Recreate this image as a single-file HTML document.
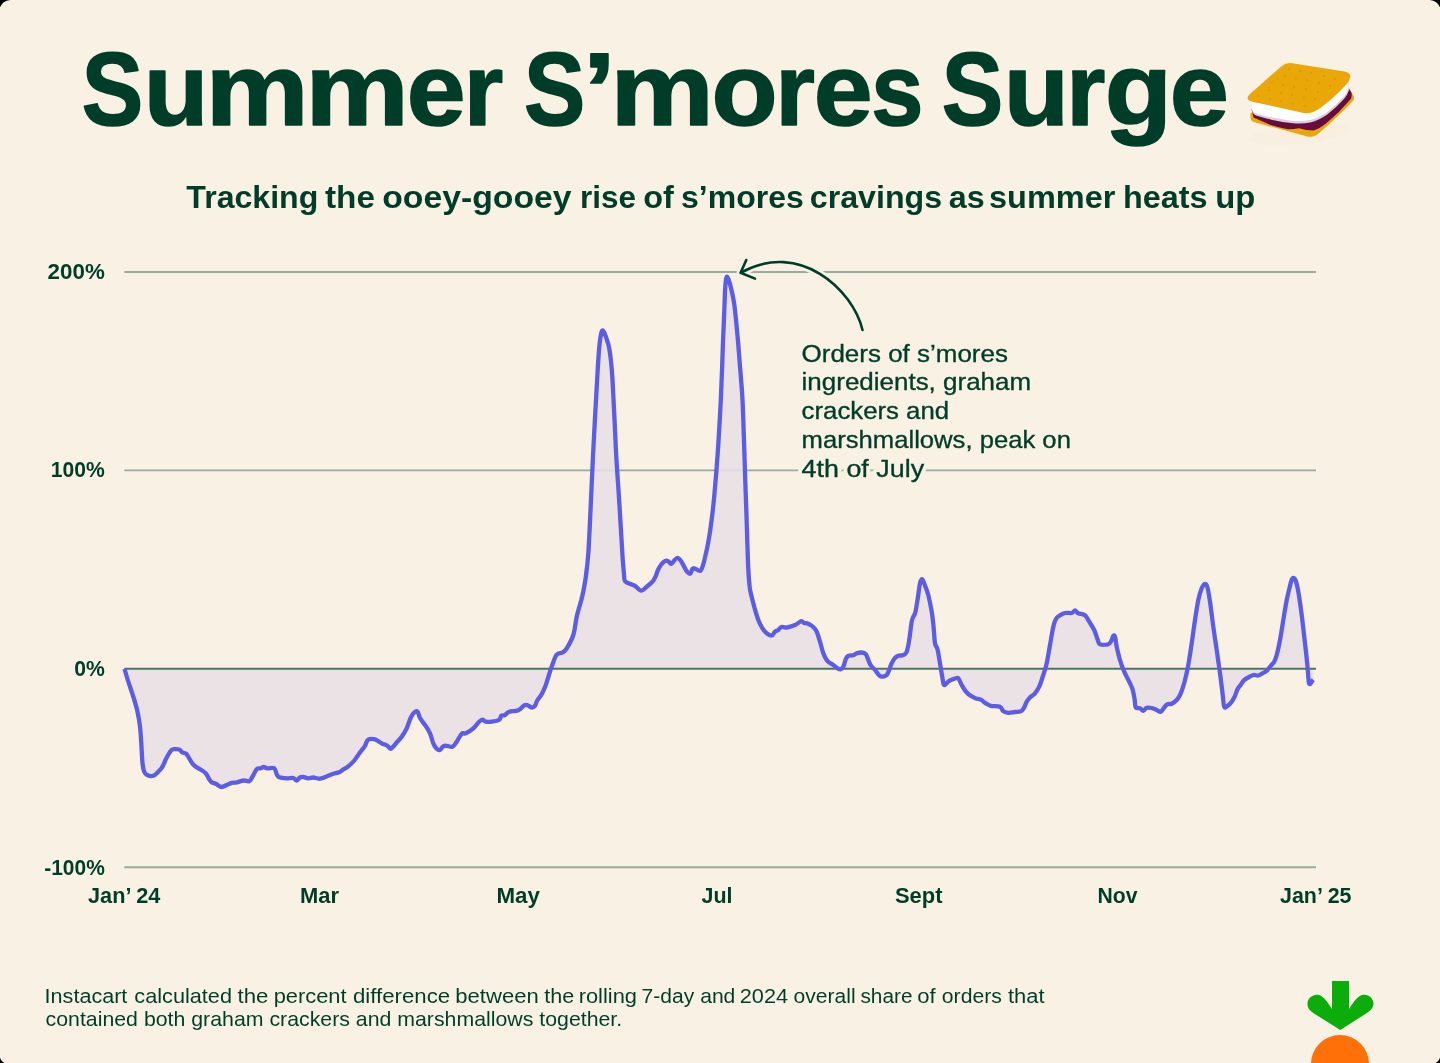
<!DOCTYPE html>
<html lang="en"><head><meta charset="utf-8"><title>Summer S'mores Surge</title>
<style>
html,body{margin:0;padding:0;background:#faf1e5;}
body{width:1440px;height:1063px;overflow:hidden;font-family:"Liberation Sans",sans-serif;}
svg{will-change:transform;display:block;position:absolute;left:0;top:0;}
text{font-family:"Liberation Sans",sans-serif;fill:#003d29;}
.serif{font-family:"Liberation Serif",serif;font-weight:bold;}
.b{font-weight:bold;}
</style></head><body>
<svg width="1440" height="1063" viewBox="0 0 1440 1063">
<rect x="0" y="0" width="1440" height="1063" fill="#faf1e5"/>
<g fill="#000">
<path d="M0,0H10.2Q2.5,1 0,7.2Z"/>
<path d="M1440,0H1429.8Q1437.5,1 1440,7.2Z"/>
<path d="M0,1063V1057.6Q1,1061.6 4.6,1063Z"/>
<path d="M1440,1063V1057.6Q1439,1061.6 1435.4,1063Z"/>
</g>
<line x1="124.3" y1="272.0" x2="1316.0" y2="272.0" stroke="#98ad9f" stroke-width="1.9"/>
<line x1="124.3" y1="470.4" x2="1316.0" y2="470.4" stroke="#98ad9f" stroke-width="1.9"/>
<line x1="124.3" y1="867.3" x2="1316.0" y2="867.3" stroke="#98ad9f" stroke-width="1.9"/>
<path d="M124.5,668.8C125.1,670.9 126.8,677.1 128.3,681.7C129.8,686.4 131.8,691.7 133.3,696.7C134.8,701.7 136.4,706.7 137.5,711.7C138.6,716.7 139.4,721.4 140.0,726.7C140.6,732.0 140.9,737.2 141.3,743.3C141.7,749.4 142.0,758.6 142.5,763.3C143.0,768.0 143.4,769.7 144.2,771.7C145.0,773.7 146.0,774.6 147.5,775.3C149.0,776.0 151.5,776.4 153.3,775.8C155.1,775.2 156.8,773.2 158.3,771.7C159.8,770.2 161.1,769.1 162.5,766.7C163.9,764.3 165.3,760.1 166.7,757.5C168.1,754.9 169.6,752.2 170.8,750.8C172.1,749.4 172.8,749.4 174.2,749.2C175.6,749.0 177.8,749.0 179.2,749.5C180.6,750.0 181.3,751.8 182.5,752.5C183.7,753.2 185.2,752.8 186.3,753.8C187.4,754.8 188.2,756.6 189.2,758.3C190.2,759.9 191.4,762.3 192.5,763.7C193.6,765.1 194.4,765.7 195.8,766.7C197.2,767.7 199.1,768.6 200.8,769.7C202.5,770.8 204.4,771.7 205.8,773.3C207.2,774.9 208.2,777.7 209.2,779.2C210.2,780.7 210.9,781.7 212.0,782.5C213.1,783.3 214.2,783.0 215.8,783.8C217.4,784.5 219.5,786.8 221.3,787.0C223.1,787.2 225.0,785.7 226.7,785.0C228.4,784.3 230.0,783.2 231.7,782.8C233.4,782.4 234.8,782.9 236.7,782.5C238.6,782.1 241.2,780.7 243.3,780.5C245.4,780.3 247.7,781.8 249.2,781.2C250.7,780.6 251.2,778.7 252.5,776.7C253.8,774.7 255.3,770.6 256.7,769.2C258.1,767.8 259.6,768.7 260.8,768.3C262.0,767.9 262.6,767.0 263.7,767.0C264.8,767.0 265.8,768.1 267.5,768.3C269.2,768.5 272.7,767.3 274.2,768.3C275.7,769.3 275.9,772.7 276.7,774.2C277.5,775.7 277.5,776.5 279.2,777.2C280.9,777.9 284.3,778.2 286.7,778.3C289.1,778.4 291.6,777.6 293.3,778.0C295.0,778.4 295.6,780.6 296.7,780.5C297.8,780.4 298.9,778.1 300.0,777.5C301.1,776.9 301.9,776.9 303.3,777.0C304.7,777.1 306.6,778.2 308.3,778.3C310.0,778.4 311.4,777.4 313.3,777.5C315.2,777.6 317.5,779.0 320.0,778.7C322.5,778.4 326.1,776.6 328.3,775.8C330.5,775.0 331.5,774.4 333.3,773.8C335.1,773.2 337.5,772.9 339.2,772.2C340.9,771.5 342.1,770.2 343.3,769.4C344.6,768.6 345.0,768.8 346.7,767.5C348.4,766.2 351.1,764.2 353.3,761.7C355.5,759.2 358.1,755.1 360.0,752.5C361.9,749.9 363.7,747.9 365.0,745.8C366.3,743.7 366.3,740.8 368.0,739.7C369.7,738.6 372.7,738.7 375.0,739.3C377.3,739.9 379.6,742.2 381.7,743.3C383.8,744.4 386.0,744.9 387.5,745.8C389.0,746.7 389.3,749.3 390.8,748.8C392.3,748.2 394.9,744.5 396.7,742.5C398.5,740.5 400.0,739.1 401.7,736.7C403.4,734.3 405.2,731.5 406.7,728.3C408.2,725.1 409.6,720.1 410.8,717.5C412.1,714.9 413.1,713.5 414.2,712.5C415.3,711.5 416.5,710.8 417.5,711.7C418.5,712.6 418.8,715.8 420.0,718.0C421.2,720.2 423.3,722.5 425.0,725.0C426.7,727.5 428.6,730.2 430.0,733.3C431.4,736.3 432.2,740.7 433.3,743.3C434.4,745.9 435.6,747.7 436.7,748.8C437.8,749.9 438.9,750.4 440.0,750.0C441.1,749.6 442.2,747.0 443.3,746.3C444.4,745.6 445.2,745.7 446.7,745.8C448.2,745.9 450.8,747.4 452.5,746.7C454.2,746.0 455.2,743.9 456.7,741.7C458.2,739.5 460.2,735.1 461.7,733.7C463.2,732.3 463.9,734.2 465.8,733.3C467.7,732.4 471.1,730.2 473.3,728.3C475.5,726.4 477.7,723.1 479.2,721.7C480.7,720.3 481.4,719.7 482.5,719.7C483.6,719.7 484.3,721.4 485.8,721.7C487.3,722.0 489.5,722.0 491.7,721.7C493.9,721.4 497.6,720.7 499.2,719.7C500.8,718.7 500.3,716.6 501.3,715.8C502.3,715.0 503.7,715.7 505.0,715.0C506.3,714.3 507.0,712.5 509.2,711.7C511.4,710.9 515.8,711.4 518.3,710.3C520.8,709.2 522.7,706.1 524.2,705.3C525.7,704.5 526.2,704.9 527.5,705.3C528.8,705.7 530.5,707.4 531.7,707.5C532.9,707.6 533.7,707.5 534.7,706.2C535.7,705.0 536.3,702.0 537.5,700.0C538.7,698.0 540.3,696.7 541.7,694.2C543.1,691.7 544.5,688.3 545.8,685.0C547.0,681.7 548.1,677.7 549.2,674.2C550.3,670.7 551.2,667.5 552.5,664.2C553.8,661.0 555.0,656.7 556.7,654.7C558.4,652.8 560.8,653.6 562.5,652.5C564.2,651.4 564.9,651.2 566.7,648.3C568.5,645.4 571.6,640.3 573.3,635.0C575.0,629.7 575.4,622.5 576.7,616.7C578.0,610.9 580.2,604.3 581.3,600.0C582.4,595.7 582.6,594.9 583.4,591.0C584.1,587.1 585.0,582.8 585.8,576.9C586.6,571.0 587.5,564.0 588.1,555.8C588.8,547.6 589.2,537.0 589.7,527.6C590.2,518.2 590.6,508.8 591.0,499.4C591.4,490.0 591.9,479.4 592.3,471.2C592.7,463.0 592.9,457.6 593.3,450.0C593.7,442.4 594.1,435.0 594.6,425.4C595.1,415.8 595.9,402.4 596.4,392.5C596.9,382.6 597.4,374.2 597.9,366.1C598.4,358.0 599.0,349.2 599.6,343.7C600.2,338.2 600.7,335.4 601.2,333.2C601.7,331.0 602.2,330.5 602.7,330.5C603.2,330.5 603.8,331.6 604.5,333.2C605.2,334.8 606.1,337.4 606.9,339.8C607.7,342.2 608.5,344.4 609.1,347.7C609.8,351.0 610.3,354.9 610.8,359.5C611.3,364.1 611.8,368.7 612.2,375.3C612.7,381.9 613.1,390.8 613.5,399.1C613.9,407.5 614.4,416.9 614.8,425.4C615.2,433.9 615.5,442.4 615.9,450.0C616.3,457.6 616.7,463.0 617.2,471.2C617.7,479.4 618.5,490.0 619.1,499.4C619.7,508.8 620.2,518.2 620.8,527.6C621.4,537.0 622.0,548.0 622.5,555.8C623.0,563.5 623.6,569.9 624.0,574.1C624.4,578.3 623.9,579.6 625.0,581.2C626.1,582.9 629.0,583.2 630.6,584.0C632.2,584.8 633.1,584.7 634.9,585.8C636.7,586.9 639.2,590.5 641.2,590.6C643.2,590.8 644.8,588.2 646.7,586.7C648.6,585.2 651.0,583.5 652.5,581.7C654.0,579.9 654.8,577.9 655.8,575.8C656.8,573.7 657.2,571.3 658.3,569.2C659.4,567.1 661.2,564.4 662.5,563.0C663.8,561.6 664.8,561.1 665.8,560.8C666.8,560.5 667.4,560.8 668.3,561.3C669.2,561.8 670.2,564.1 671.3,563.8C672.4,563.5 673.9,560.7 675.0,559.7C676.1,558.7 677.0,557.8 678.0,558.0C679.0,558.2 679.8,559.3 680.8,560.8C681.8,562.2 683.2,564.9 684.2,566.7C685.2,568.5 686.0,570.5 687.0,571.7C688.0,572.9 689.4,574.2 690.3,573.7C691.2,573.2 691.7,569.6 692.5,568.8C693.3,567.9 693.6,568.3 695.0,568.6C696.4,568.9 699.0,572.0 700.6,570.6C702.2,569.2 703.0,565.5 704.4,560.0C705.8,554.5 707.7,545.9 709.1,537.4C710.5,528.9 711.8,518.9 712.9,509.2C714.0,499.5 714.9,489.2 715.7,479.1C716.6,469.1 717.3,458.9 718.0,448.9C718.7,438.8 719.3,426.9 719.8,418.8C720.3,410.7 720.4,408.1 720.8,400.0C721.2,391.9 721.6,379.7 722.0,370.4C722.4,361.1 722.6,352.9 722.9,344.1C723.2,335.3 723.6,326.5 724.0,317.7C724.4,308.9 724.7,297.8 725.0,291.4C725.3,285.0 725.7,282.0 726.0,279.5C726.3,277.0 726.5,276.6 726.9,276.6C727.3,276.6 727.9,277.5 728.6,279.5C729.3,281.5 730.3,285.0 731.2,288.7C732.1,292.4 733.1,297.1 733.9,301.9C734.7,306.7 735.1,311.5 735.8,317.7C736.4,323.9 737.1,331.1 737.8,338.8C738.5,346.5 739.2,356.3 739.8,363.8C740.4,371.3 740.9,377.6 741.4,383.6C741.9,389.6 742.1,392.6 742.5,400.0C742.9,407.4 743.3,418.8 743.6,428.2C743.9,437.6 744.2,447.1 744.5,456.5C744.8,465.9 745.1,475.3 745.4,484.7C745.7,494.1 746.1,503.5 746.4,512.9C746.7,522.3 747.0,531.8 747.3,541.2C747.6,550.6 747.9,561.9 748.3,569.4C748.7,576.9 749.2,582.4 749.6,586.4C750.0,590.4 750.0,589.9 750.8,593.3C751.6,596.7 753.0,602.2 754.2,606.7C755.5,611.2 756.9,616.4 758.3,620.0C759.7,623.6 761.1,626.1 762.5,628.3C763.9,630.5 765.2,632.1 766.7,633.3C768.2,634.5 770.3,635.8 771.7,635.5C773.1,635.2 773.9,632.6 775.0,631.7C776.1,630.8 777.2,630.8 778.3,630.0C779.3,629.2 779.9,627.4 781.3,627.0C782.7,626.6 784.4,627.8 786.7,627.5C789.0,627.2 792.6,626.0 795.0,625.0C797.4,624.0 799.7,621.5 801.2,621.2C802.7,620.9 803.0,622.6 804.2,623.0C805.4,623.4 806.8,623.0 808.3,623.7C809.8,624.4 811.9,625.7 813.3,627.0C814.7,628.3 815.6,629.2 816.7,631.7C817.8,634.2 818.9,638.1 820.0,641.7C821.1,645.3 822.2,650.2 823.3,653.3C824.4,656.3 825.7,658.5 826.7,660.0C827.7,661.5 828.1,661.7 829.2,662.5C830.3,663.3 831.9,664.0 833.3,665.0C834.7,666.0 836.2,667.6 837.5,668.3C838.8,669.0 839.8,669.5 840.8,669.2C841.8,668.9 842.5,668.4 843.3,666.7C844.1,665.0 845.0,661.0 845.8,659.2C846.6,657.4 847.0,656.4 848.3,655.8C849.5,655.1 851.9,655.7 853.3,655.3C854.7,654.9 855.3,653.8 856.7,653.3C858.1,652.8 860.2,652.4 861.7,652.5C863.2,652.6 864.7,653.0 865.8,654.2C866.9,655.5 867.5,658.1 868.3,660.0C869.1,661.9 869.7,663.6 870.8,665.3C871.9,667.0 873.6,668.3 875.0,670.0C876.4,671.7 878.0,674.2 879.2,675.3C880.5,676.4 881.2,676.8 882.5,676.7C883.8,676.7 885.6,676.1 886.7,675.0C887.8,673.9 888.4,672.0 889.2,670.0C890.0,668.0 890.7,665.3 891.7,663.3C892.7,661.3 893.9,659.2 895.0,658.0C896.1,656.8 896.9,656.3 898.3,655.8C899.7,655.3 901.9,655.7 903.3,655.0C904.7,654.3 905.7,654.2 906.7,651.7C907.7,649.2 908.4,645.0 909.2,640.0C910.0,635.0 911.0,625.6 911.7,621.7C912.4,617.8 912.7,618.2 913.3,616.7C913.9,615.2 914.6,615.3 915.3,612.5C916.0,609.7 916.7,604.9 917.5,600.0C918.3,595.1 919.2,586.8 920.0,583.3C920.8,579.8 921.3,579.2 922.0,579.2C922.7,579.2 923.2,580.7 924.2,583.3C925.2,585.9 927.0,590.3 928.3,595.0C929.5,599.7 930.8,606.2 931.7,611.7C932.6,617.2 933.2,623.0 933.7,628.3C934.2,633.6 934.4,639.8 935.0,643.3C935.6,646.8 936.7,645.9 937.5,649.2C938.3,652.5 939.2,658.4 940.0,663.3C940.8,668.1 941.8,674.7 942.5,678.3C943.2,681.9 943.1,684.6 944.2,685.0C945.3,685.4 947.5,681.8 949.2,680.8C950.9,679.8 952.7,679.2 954.2,678.8C955.7,678.4 957.0,677.3 958.3,678.3C959.5,679.3 960.3,682.6 961.7,685.0C963.1,687.4 964.9,690.5 966.7,692.5C968.5,694.5 971.0,695.8 972.5,696.8C974.0,697.8 974.6,698.0 976.0,698.5C977.4,699.0 979.2,698.9 980.8,699.7C982.4,700.5 984.1,702.3 985.8,703.3C987.5,704.3 988.4,705.2 990.8,705.8C993.2,706.4 997.9,705.8 1000.0,706.7C1002.1,707.6 1001.9,710.3 1003.3,711.3C1004.7,712.3 1006.3,712.7 1008.3,712.8C1010.2,712.9 1012.9,712.2 1015.0,712.0C1017.1,711.8 1019.3,711.9 1020.8,711.3C1022.2,710.7 1022.7,709.9 1023.7,708.3C1024.7,706.7 1025.7,703.5 1026.7,701.7C1027.8,699.9 1028.6,698.9 1030.0,697.5C1031.4,696.1 1033.5,695.1 1035.0,693.3C1036.5,691.5 1037.8,689.8 1039.2,686.7C1040.6,683.7 1042.0,678.9 1043.3,675.0C1044.5,671.1 1045.6,668.3 1046.7,663.3C1047.8,658.3 1048.9,651.1 1050.0,645.0C1051.1,638.9 1052.3,631.0 1053.3,626.7C1054.3,622.4 1054.8,621.0 1055.8,619.2C1056.8,617.4 1057.7,616.8 1059.2,615.8C1060.7,614.8 1062.9,613.5 1065.0,613.0C1067.1,612.5 1070.0,613.4 1071.7,613.0C1073.4,612.6 1073.9,610.5 1075.0,610.5C1076.1,610.5 1076.6,612.5 1078.3,613.3C1080.0,614.1 1083.2,613.9 1085.0,615.3C1086.8,616.7 1087.7,619.2 1089.2,621.7C1090.7,624.2 1092.8,627.1 1094.2,630.0C1095.6,632.9 1096.5,636.8 1097.5,639.2C1098.5,641.6 1098.2,643.4 1100.0,644.2C1101.8,645.0 1106.4,644.8 1108.3,644.2C1110.2,643.6 1110.5,642.2 1111.3,640.8C1112.1,639.4 1112.7,636.5 1113.3,635.8C1113.9,635.1 1114.4,634.9 1115.0,636.7C1115.6,638.5 1115.9,642.8 1116.7,646.7C1117.5,650.6 1118.8,655.8 1120.0,660.0C1121.2,664.2 1122.7,668.1 1124.2,671.7C1125.7,675.3 1127.8,678.8 1129.2,681.7C1130.6,684.6 1131.6,686.2 1132.5,689.2C1133.4,692.2 1134.2,697.0 1134.7,700.0C1135.2,703.0 1134.9,706.1 1135.8,707.5C1136.7,708.9 1138.8,707.8 1140.0,708.3C1141.2,708.8 1142.2,710.9 1143.3,710.8C1144.4,710.7 1145.3,708.3 1146.7,707.8C1148.1,707.3 1150.0,707.6 1151.7,708.0C1153.4,708.4 1155.2,709.4 1156.7,710.0C1158.2,710.6 1159.5,712.1 1160.8,711.7C1162.0,711.3 1163.1,708.8 1164.2,707.5C1165.3,706.2 1166.2,704.8 1167.5,704.2C1168.8,703.6 1170.2,704.4 1171.7,703.7C1173.2,703.0 1175.2,701.7 1176.7,700.0C1178.2,698.3 1179.4,696.6 1180.8,693.3C1182.2,690.0 1183.8,684.7 1185.0,680.0C1186.2,675.3 1187.2,671.1 1188.3,665.0C1189.4,658.9 1190.6,650.8 1191.7,643.3C1192.8,635.8 1193.9,627.2 1195.0,620.0C1196.1,612.8 1197.2,605.3 1198.3,600.0C1199.4,594.7 1200.6,591.0 1201.7,588.3C1202.8,585.6 1204.1,583.9 1205.1,583.8C1206.1,583.7 1206.7,584.5 1207.5,587.5C1208.3,590.5 1209.0,595.2 1210.0,601.7C1211.0,608.2 1212.2,618.7 1213.3,626.7C1214.4,634.8 1215.6,642.2 1216.7,650.0C1217.8,657.8 1219.0,666.1 1220.0,673.3C1221.0,680.5 1221.8,687.7 1222.5,693.3C1223.2,698.9 1223.4,704.6 1224.2,706.7C1225.0,708.8 1226.2,706.6 1227.5,705.8C1228.8,705.0 1230.5,703.4 1231.7,701.7C1233.0,700.0 1234.0,697.9 1235.0,695.8C1236.0,693.7 1236.5,691.1 1237.5,689.2C1238.5,687.4 1239.7,686.2 1240.8,684.7C1241.9,683.2 1243.0,681.2 1244.2,680.0C1245.5,678.8 1246.8,678.3 1248.3,677.5C1249.8,676.7 1251.6,675.3 1253.3,675.0C1255.0,674.7 1256.8,675.8 1258.3,675.5C1259.8,675.2 1261.1,674.1 1262.5,673.3C1263.9,672.5 1265.3,672.0 1266.7,670.8C1268.1,669.5 1269.5,667.3 1270.8,665.8C1272.0,664.3 1273.2,663.5 1274.2,661.7C1275.2,659.9 1275.7,658.6 1276.7,655.0C1277.7,651.4 1278.9,645.8 1280.0,640.0C1281.1,634.2 1282.2,626.7 1283.3,620.0C1284.4,613.3 1285.6,605.7 1286.7,600.0C1287.8,594.3 1289.1,589.3 1290.0,585.8C1290.9,582.3 1291.4,580.5 1292.0,579.2C1292.6,577.9 1293.1,577.7 1293.7,578.0C1294.3,578.3 1295.0,578.5 1295.8,580.8C1296.6,583.1 1297.3,586.0 1298.3,591.7C1299.3,597.4 1300.6,606.4 1301.7,615.0C1302.8,623.6 1304.0,634.7 1305.0,643.3C1306.0,651.9 1306.9,660.3 1307.5,666.7C1308.1,673.1 1308.3,678.8 1308.7,681.7C1309.1,684.6 1309.5,684.2 1310.0,684.2C1310.5,684.2 1311.2,682.5 1311.7,681.7C1312.2,681.0 1313.0,680.0 1313.3,679.7L1313.3,668.8L124.5,668.8Z" fill="#e7dfe5" fill-opacity="0.85"/>
<line x1="124.3" y1="668.8" x2="1316.0" y2="668.8" stroke="#507463" stroke-width="2.1"/>
<path d="M124.5,668.8C125.1,670.9 126.8,677.1 128.3,681.7C129.8,686.4 131.8,691.7 133.3,696.7C134.8,701.7 136.4,706.7 137.5,711.7C138.6,716.7 139.4,721.4 140.0,726.7C140.6,732.0 140.9,737.2 141.3,743.3C141.7,749.4 142.0,758.6 142.5,763.3C143.0,768.0 143.4,769.7 144.2,771.7C145.0,773.7 146.0,774.6 147.5,775.3C149.0,776.0 151.5,776.4 153.3,775.8C155.1,775.2 156.8,773.2 158.3,771.7C159.8,770.2 161.1,769.1 162.5,766.7C163.9,764.3 165.3,760.1 166.7,757.5C168.1,754.9 169.6,752.2 170.8,750.8C172.1,749.4 172.8,749.4 174.2,749.2C175.6,749.0 177.8,749.0 179.2,749.5C180.6,750.0 181.3,751.8 182.5,752.5C183.7,753.2 185.2,752.8 186.3,753.8C187.4,754.8 188.2,756.6 189.2,758.3C190.2,759.9 191.4,762.3 192.5,763.7C193.6,765.1 194.4,765.7 195.8,766.7C197.2,767.7 199.1,768.6 200.8,769.7C202.5,770.8 204.4,771.7 205.8,773.3C207.2,774.9 208.2,777.7 209.2,779.2C210.2,780.7 210.9,781.7 212.0,782.5C213.1,783.3 214.2,783.0 215.8,783.8C217.4,784.5 219.5,786.8 221.3,787.0C223.1,787.2 225.0,785.7 226.7,785.0C228.4,784.3 230.0,783.2 231.7,782.8C233.4,782.4 234.8,782.9 236.7,782.5C238.6,782.1 241.2,780.7 243.3,780.5C245.4,780.3 247.7,781.8 249.2,781.2C250.7,780.6 251.2,778.7 252.5,776.7C253.8,774.7 255.3,770.6 256.7,769.2C258.1,767.8 259.6,768.7 260.8,768.3C262.0,767.9 262.6,767.0 263.7,767.0C264.8,767.0 265.8,768.1 267.5,768.3C269.2,768.5 272.7,767.3 274.2,768.3C275.7,769.3 275.9,772.7 276.7,774.2C277.5,775.7 277.5,776.5 279.2,777.2C280.9,777.9 284.3,778.2 286.7,778.3C289.1,778.4 291.6,777.6 293.3,778.0C295.0,778.4 295.6,780.6 296.7,780.5C297.8,780.4 298.9,778.1 300.0,777.5C301.1,776.9 301.9,776.9 303.3,777.0C304.7,777.1 306.6,778.2 308.3,778.3C310.0,778.4 311.4,777.4 313.3,777.5C315.2,777.6 317.5,779.0 320.0,778.7C322.5,778.4 326.1,776.6 328.3,775.8C330.5,775.0 331.5,774.4 333.3,773.8C335.1,773.2 337.5,772.9 339.2,772.2C340.9,771.5 342.1,770.2 343.3,769.4C344.6,768.6 345.0,768.8 346.7,767.5C348.4,766.2 351.1,764.2 353.3,761.7C355.5,759.2 358.1,755.1 360.0,752.5C361.9,749.9 363.7,747.9 365.0,745.8C366.3,743.7 366.3,740.8 368.0,739.7C369.7,738.6 372.7,738.7 375.0,739.3C377.3,739.9 379.6,742.2 381.7,743.3C383.8,744.4 386.0,744.9 387.5,745.8C389.0,746.7 389.3,749.3 390.8,748.8C392.3,748.2 394.9,744.5 396.7,742.5C398.5,740.5 400.0,739.1 401.7,736.7C403.4,734.3 405.2,731.5 406.7,728.3C408.2,725.1 409.6,720.1 410.8,717.5C412.1,714.9 413.1,713.5 414.2,712.5C415.3,711.5 416.5,710.8 417.5,711.7C418.5,712.6 418.8,715.8 420.0,718.0C421.2,720.2 423.3,722.5 425.0,725.0C426.7,727.5 428.6,730.2 430.0,733.3C431.4,736.3 432.2,740.7 433.3,743.3C434.4,745.9 435.6,747.7 436.7,748.8C437.8,749.9 438.9,750.4 440.0,750.0C441.1,749.6 442.2,747.0 443.3,746.3C444.4,745.6 445.2,745.7 446.7,745.8C448.2,745.9 450.8,747.4 452.5,746.7C454.2,746.0 455.2,743.9 456.7,741.7C458.2,739.5 460.2,735.1 461.7,733.7C463.2,732.3 463.9,734.2 465.8,733.3C467.7,732.4 471.1,730.2 473.3,728.3C475.5,726.4 477.7,723.1 479.2,721.7C480.7,720.3 481.4,719.7 482.5,719.7C483.6,719.7 484.3,721.4 485.8,721.7C487.3,722.0 489.5,722.0 491.7,721.7C493.9,721.4 497.6,720.7 499.2,719.7C500.8,718.7 500.3,716.6 501.3,715.8C502.3,715.0 503.7,715.7 505.0,715.0C506.3,714.3 507.0,712.5 509.2,711.7C511.4,710.9 515.8,711.4 518.3,710.3C520.8,709.2 522.7,706.1 524.2,705.3C525.7,704.5 526.2,704.9 527.5,705.3C528.8,705.7 530.5,707.4 531.7,707.5C532.9,707.6 533.7,707.5 534.7,706.2C535.7,705.0 536.3,702.0 537.5,700.0C538.7,698.0 540.3,696.7 541.7,694.2C543.1,691.7 544.5,688.3 545.8,685.0C547.0,681.7 548.1,677.7 549.2,674.2C550.3,670.7 551.2,667.5 552.5,664.2C553.8,661.0 555.0,656.7 556.7,654.7C558.4,652.8 560.8,653.6 562.5,652.5C564.2,651.4 564.9,651.2 566.7,648.3C568.5,645.4 571.6,640.3 573.3,635.0C575.0,629.7 575.4,622.5 576.7,616.7C578.0,610.9 580.2,604.3 581.3,600.0C582.4,595.7 582.6,594.9 583.4,591.0C584.1,587.1 585.0,582.8 585.8,576.9C586.6,571.0 587.5,564.0 588.1,555.8C588.8,547.6 589.2,537.0 589.7,527.6C590.2,518.2 590.6,508.8 591.0,499.4C591.4,490.0 591.9,479.4 592.3,471.2C592.7,463.0 592.9,457.6 593.3,450.0C593.7,442.4 594.1,435.0 594.6,425.4C595.1,415.8 595.9,402.4 596.4,392.5C596.9,382.6 597.4,374.2 597.9,366.1C598.4,358.0 599.0,349.2 599.6,343.7C600.2,338.2 600.7,335.4 601.2,333.2C601.7,331.0 602.2,330.5 602.7,330.5C603.2,330.5 603.8,331.6 604.5,333.2C605.2,334.8 606.1,337.4 606.9,339.8C607.7,342.2 608.5,344.4 609.1,347.7C609.8,351.0 610.3,354.9 610.8,359.5C611.3,364.1 611.8,368.7 612.2,375.3C612.7,381.9 613.1,390.8 613.5,399.1C613.9,407.5 614.4,416.9 614.8,425.4C615.2,433.9 615.5,442.4 615.9,450.0C616.3,457.6 616.7,463.0 617.2,471.2C617.7,479.4 618.5,490.0 619.1,499.4C619.7,508.8 620.2,518.2 620.8,527.6C621.4,537.0 622.0,548.0 622.5,555.8C623.0,563.5 623.6,569.9 624.0,574.1C624.4,578.3 623.9,579.6 625.0,581.2C626.1,582.9 629.0,583.2 630.6,584.0C632.2,584.8 633.1,584.7 634.9,585.8C636.7,586.9 639.2,590.5 641.2,590.6C643.2,590.8 644.8,588.2 646.7,586.7C648.6,585.2 651.0,583.5 652.5,581.7C654.0,579.9 654.8,577.9 655.8,575.8C656.8,573.7 657.2,571.3 658.3,569.2C659.4,567.1 661.2,564.4 662.5,563.0C663.8,561.6 664.8,561.1 665.8,560.8C666.8,560.5 667.4,560.8 668.3,561.3C669.2,561.8 670.2,564.1 671.3,563.8C672.4,563.5 673.9,560.7 675.0,559.7C676.1,558.7 677.0,557.8 678.0,558.0C679.0,558.2 679.8,559.3 680.8,560.8C681.8,562.2 683.2,564.9 684.2,566.7C685.2,568.5 686.0,570.5 687.0,571.7C688.0,572.9 689.4,574.2 690.3,573.7C691.2,573.2 691.7,569.6 692.5,568.8C693.3,567.9 693.6,568.3 695.0,568.6C696.4,568.9 699.0,572.0 700.6,570.6C702.2,569.2 703.0,565.5 704.4,560.0C705.8,554.5 707.7,545.9 709.1,537.4C710.5,528.9 711.8,518.9 712.9,509.2C714.0,499.5 714.9,489.2 715.7,479.1C716.6,469.1 717.3,458.9 718.0,448.9C718.7,438.8 719.3,426.9 719.8,418.8C720.3,410.7 720.4,408.1 720.8,400.0C721.2,391.9 721.6,379.7 722.0,370.4C722.4,361.1 722.6,352.9 722.9,344.1C723.2,335.3 723.6,326.5 724.0,317.7C724.4,308.9 724.7,297.8 725.0,291.4C725.3,285.0 725.7,282.0 726.0,279.5C726.3,277.0 726.5,276.6 726.9,276.6C727.3,276.6 727.9,277.5 728.6,279.5C729.3,281.5 730.3,285.0 731.2,288.7C732.1,292.4 733.1,297.1 733.9,301.9C734.7,306.7 735.1,311.5 735.8,317.7C736.4,323.9 737.1,331.1 737.8,338.8C738.5,346.5 739.2,356.3 739.8,363.8C740.4,371.3 740.9,377.6 741.4,383.6C741.9,389.6 742.1,392.6 742.5,400.0C742.9,407.4 743.3,418.8 743.6,428.2C743.9,437.6 744.2,447.1 744.5,456.5C744.8,465.9 745.1,475.3 745.4,484.7C745.7,494.1 746.1,503.5 746.4,512.9C746.7,522.3 747.0,531.8 747.3,541.2C747.6,550.6 747.9,561.9 748.3,569.4C748.7,576.9 749.2,582.4 749.6,586.4C750.0,590.4 750.0,589.9 750.8,593.3C751.6,596.7 753.0,602.2 754.2,606.7C755.5,611.2 756.9,616.4 758.3,620.0C759.7,623.6 761.1,626.1 762.5,628.3C763.9,630.5 765.2,632.1 766.7,633.3C768.2,634.5 770.3,635.8 771.7,635.5C773.1,635.2 773.9,632.6 775.0,631.7C776.1,630.8 777.2,630.8 778.3,630.0C779.3,629.2 779.9,627.4 781.3,627.0C782.7,626.6 784.4,627.8 786.7,627.5C789.0,627.2 792.6,626.0 795.0,625.0C797.4,624.0 799.7,621.5 801.2,621.2C802.7,620.9 803.0,622.6 804.2,623.0C805.4,623.4 806.8,623.0 808.3,623.7C809.8,624.4 811.9,625.7 813.3,627.0C814.7,628.3 815.6,629.2 816.7,631.7C817.8,634.2 818.9,638.1 820.0,641.7C821.1,645.3 822.2,650.2 823.3,653.3C824.4,656.3 825.7,658.5 826.7,660.0C827.7,661.5 828.1,661.7 829.2,662.5C830.3,663.3 831.9,664.0 833.3,665.0C834.7,666.0 836.2,667.6 837.5,668.3C838.8,669.0 839.8,669.5 840.8,669.2C841.8,668.9 842.5,668.4 843.3,666.7C844.1,665.0 845.0,661.0 845.8,659.2C846.6,657.4 847.0,656.4 848.3,655.8C849.5,655.1 851.9,655.7 853.3,655.3C854.7,654.9 855.3,653.8 856.7,653.3C858.1,652.8 860.2,652.4 861.7,652.5C863.2,652.6 864.7,653.0 865.8,654.2C866.9,655.5 867.5,658.1 868.3,660.0C869.1,661.9 869.7,663.6 870.8,665.3C871.9,667.0 873.6,668.3 875.0,670.0C876.4,671.7 878.0,674.2 879.2,675.3C880.5,676.4 881.2,676.8 882.5,676.7C883.8,676.7 885.6,676.1 886.7,675.0C887.8,673.9 888.4,672.0 889.2,670.0C890.0,668.0 890.7,665.3 891.7,663.3C892.7,661.3 893.9,659.2 895.0,658.0C896.1,656.8 896.9,656.3 898.3,655.8C899.7,655.3 901.9,655.7 903.3,655.0C904.7,654.3 905.7,654.2 906.7,651.7C907.7,649.2 908.4,645.0 909.2,640.0C910.0,635.0 911.0,625.6 911.7,621.7C912.4,617.8 912.7,618.2 913.3,616.7C913.9,615.2 914.6,615.3 915.3,612.5C916.0,609.7 916.7,604.9 917.5,600.0C918.3,595.1 919.2,586.8 920.0,583.3C920.8,579.8 921.3,579.2 922.0,579.2C922.7,579.2 923.2,580.7 924.2,583.3C925.2,585.9 927.0,590.3 928.3,595.0C929.5,599.7 930.8,606.2 931.7,611.7C932.6,617.2 933.2,623.0 933.7,628.3C934.2,633.6 934.4,639.8 935.0,643.3C935.6,646.8 936.7,645.9 937.5,649.2C938.3,652.5 939.2,658.4 940.0,663.3C940.8,668.1 941.8,674.7 942.5,678.3C943.2,681.9 943.1,684.6 944.2,685.0C945.3,685.4 947.5,681.8 949.2,680.8C950.9,679.8 952.7,679.2 954.2,678.8C955.7,678.4 957.0,677.3 958.3,678.3C959.5,679.3 960.3,682.6 961.7,685.0C963.1,687.4 964.9,690.5 966.7,692.5C968.5,694.5 971.0,695.8 972.5,696.8C974.0,697.8 974.6,698.0 976.0,698.5C977.4,699.0 979.2,698.9 980.8,699.7C982.4,700.5 984.1,702.3 985.8,703.3C987.5,704.3 988.4,705.2 990.8,705.8C993.2,706.4 997.9,705.8 1000.0,706.7C1002.1,707.6 1001.9,710.3 1003.3,711.3C1004.7,712.3 1006.3,712.7 1008.3,712.8C1010.2,712.9 1012.9,712.2 1015.0,712.0C1017.1,711.8 1019.3,711.9 1020.8,711.3C1022.2,710.7 1022.7,709.9 1023.7,708.3C1024.7,706.7 1025.7,703.5 1026.7,701.7C1027.8,699.9 1028.6,698.9 1030.0,697.5C1031.4,696.1 1033.5,695.1 1035.0,693.3C1036.5,691.5 1037.8,689.8 1039.2,686.7C1040.6,683.7 1042.0,678.9 1043.3,675.0C1044.5,671.1 1045.6,668.3 1046.7,663.3C1047.8,658.3 1048.9,651.1 1050.0,645.0C1051.1,638.9 1052.3,631.0 1053.3,626.7C1054.3,622.4 1054.8,621.0 1055.8,619.2C1056.8,617.4 1057.7,616.8 1059.2,615.8C1060.7,614.8 1062.9,613.5 1065.0,613.0C1067.1,612.5 1070.0,613.4 1071.7,613.0C1073.4,612.6 1073.9,610.5 1075.0,610.5C1076.1,610.5 1076.6,612.5 1078.3,613.3C1080.0,614.1 1083.2,613.9 1085.0,615.3C1086.8,616.7 1087.7,619.2 1089.2,621.7C1090.7,624.2 1092.8,627.1 1094.2,630.0C1095.6,632.9 1096.5,636.8 1097.5,639.2C1098.5,641.6 1098.2,643.4 1100.0,644.2C1101.8,645.0 1106.4,644.8 1108.3,644.2C1110.2,643.6 1110.5,642.2 1111.3,640.8C1112.1,639.4 1112.7,636.5 1113.3,635.8C1113.9,635.1 1114.4,634.9 1115.0,636.7C1115.6,638.5 1115.9,642.8 1116.7,646.7C1117.5,650.6 1118.8,655.8 1120.0,660.0C1121.2,664.2 1122.7,668.1 1124.2,671.7C1125.7,675.3 1127.8,678.8 1129.2,681.7C1130.6,684.6 1131.6,686.2 1132.5,689.2C1133.4,692.2 1134.2,697.0 1134.7,700.0C1135.2,703.0 1134.9,706.1 1135.8,707.5C1136.7,708.9 1138.8,707.8 1140.0,708.3C1141.2,708.8 1142.2,710.9 1143.3,710.8C1144.4,710.7 1145.3,708.3 1146.7,707.8C1148.1,707.3 1150.0,707.6 1151.7,708.0C1153.4,708.4 1155.2,709.4 1156.7,710.0C1158.2,710.6 1159.5,712.1 1160.8,711.7C1162.0,711.3 1163.1,708.8 1164.2,707.5C1165.3,706.2 1166.2,704.8 1167.5,704.2C1168.8,703.6 1170.2,704.4 1171.7,703.7C1173.2,703.0 1175.2,701.7 1176.7,700.0C1178.2,698.3 1179.4,696.6 1180.8,693.3C1182.2,690.0 1183.8,684.7 1185.0,680.0C1186.2,675.3 1187.2,671.1 1188.3,665.0C1189.4,658.9 1190.6,650.8 1191.7,643.3C1192.8,635.8 1193.9,627.2 1195.0,620.0C1196.1,612.8 1197.2,605.3 1198.3,600.0C1199.4,594.7 1200.6,591.0 1201.7,588.3C1202.8,585.6 1204.1,583.9 1205.1,583.8C1206.1,583.7 1206.7,584.5 1207.5,587.5C1208.3,590.5 1209.0,595.2 1210.0,601.7C1211.0,608.2 1212.2,618.7 1213.3,626.7C1214.4,634.8 1215.6,642.2 1216.7,650.0C1217.8,657.8 1219.0,666.1 1220.0,673.3C1221.0,680.5 1221.8,687.7 1222.5,693.3C1223.2,698.9 1223.4,704.6 1224.2,706.7C1225.0,708.8 1226.2,706.6 1227.5,705.8C1228.8,705.0 1230.5,703.4 1231.7,701.7C1233.0,700.0 1234.0,697.9 1235.0,695.8C1236.0,693.7 1236.5,691.1 1237.5,689.2C1238.5,687.4 1239.7,686.2 1240.8,684.7C1241.9,683.2 1243.0,681.2 1244.2,680.0C1245.5,678.8 1246.8,678.3 1248.3,677.5C1249.8,676.7 1251.6,675.3 1253.3,675.0C1255.0,674.7 1256.8,675.8 1258.3,675.5C1259.8,675.2 1261.1,674.1 1262.5,673.3C1263.9,672.5 1265.3,672.0 1266.7,670.8C1268.1,669.5 1269.5,667.3 1270.8,665.8C1272.0,664.3 1273.2,663.5 1274.2,661.7C1275.2,659.9 1275.7,658.6 1276.7,655.0C1277.7,651.4 1278.9,645.8 1280.0,640.0C1281.1,634.2 1282.2,626.7 1283.3,620.0C1284.4,613.3 1285.6,605.7 1286.7,600.0C1287.8,594.3 1289.1,589.3 1290.0,585.8C1290.9,582.3 1291.4,580.5 1292.0,579.2C1292.6,577.9 1293.1,577.7 1293.7,578.0C1294.3,578.3 1295.0,578.5 1295.8,580.8C1296.6,583.1 1297.3,586.0 1298.3,591.7C1299.3,597.4 1300.6,606.4 1301.7,615.0C1302.8,623.6 1304.0,634.7 1305.0,643.3C1306.0,651.9 1306.9,660.3 1307.5,666.7C1308.1,673.1 1308.3,678.8 1308.7,681.7C1309.1,684.6 1309.5,684.2 1310.0,684.2C1310.5,684.2 1311.2,682.5 1311.7,681.7C1312.2,681.0 1313.0,680.0 1313.3,679.7" fill="none" stroke="#5c5ce6" stroke-width="4.3" stroke-linejoin="round" stroke-linecap="butt"/>
<g fill="none" stroke-linecap="round" stroke-linejoin="round"><path d="M862.5,330C853,290 800,240 741,272.5" stroke="#faf1e5" stroke-width="8"/><path d="M746.3,260L740.6,272.8L755,278.6" stroke="#faf1e5" stroke-width="8"/><path d="M862.5,330C853,290 800,240 741,272.5" stroke="#003d29" stroke-width="2.6"/><path d="M746.3,260L740.6,272.8L755,278.6" stroke="#003d29" stroke-width="2.6"/></g>
<text x="801.6" y="361.7" font-size="24.2" textLength="206.3" lengthAdjust="spacingAndGlyphs" stroke="#faf1e5" stroke-width="7.5" stroke-linejoin="round">Orders of s’mores</text>
<text x="801.6" y="390.4" font-size="24.2" textLength="229.5" lengthAdjust="spacingAndGlyphs" stroke="#faf1e5" stroke-width="7.5" stroke-linejoin="round">ingredients, graham</text>
<text x="801.6" y="419.1" font-size="24.2" textLength="147.5" lengthAdjust="spacingAndGlyphs" stroke="#faf1e5" stroke-width="7.5" stroke-linejoin="round">crackers and</text>
<text x="801.6" y="447.8" font-size="24.2" textLength="269.3" lengthAdjust="spacingAndGlyphs" stroke="#faf1e5" stroke-width="7.5" stroke-linejoin="round">marshmallows, peak on</text>
<text x="801.6" y="476.5" font-size="24.2" textLength="122.5" lengthAdjust="spacingAndGlyphs" stroke="#faf1e5" stroke-width="7.5" stroke-linejoin="round">4th of July</text>
<text x="801.6" y="361.7" font-size="24.2" textLength="206.3" lengthAdjust="spacingAndGlyphs" stroke="#003d29" stroke-width="0.35">Orders of s’mores</text>
<text x="801.6" y="390.4" font-size="24.2" textLength="229.5" lengthAdjust="spacingAndGlyphs" stroke="#003d29" stroke-width="0.35">ingredients, graham</text>
<text x="801.6" y="419.1" font-size="24.2" textLength="147.5" lengthAdjust="spacingAndGlyphs" stroke="#003d29" stroke-width="0.35">crackers and</text>
<text x="801.6" y="447.8" font-size="24.2" textLength="269.3" lengthAdjust="spacingAndGlyphs" stroke="#003d29" stroke-width="0.35">marshmallows, peak on</text>
<text x="801.6" y="476.5" font-size="24.2" textLength="122.5" lengthAdjust="spacingAndGlyphs" stroke="#003d29" stroke-width="0.35">4th of July</text>
<g font-size="102" stroke="#003d29" stroke-width="1.6" stroke-linejoin="round">
<text class="b" transform="matrix(0.9035,0,0,1.02,81.86,125.0)" vector-effect="non-scaling-stroke">S</text>
<text class="b" transform="matrix(1.0373,0,0,1.0,143.84,125.0)" vector-effect="non-scaling-stroke">u</text>
<text class="b" transform="matrix(1.1384,0,0,1.0,205.54,125.0)" vector-effect="non-scaling-stroke">m</text>
<text class="b" transform="matrix(1.1422,0,0,1.0,305.22,125.0)" vector-effect="non-scaling-stroke">m</text>
<text class="b" transform="matrix(1.0373,0,0,1.0,406.69,125.0)" vector-effect="non-scaling-stroke">e</text>
<text class="b" transform="matrix(0.9945,0,0,1.0,463.66,125.0)" vector-effect="non-scaling-stroke">r</text>
<text class="b" transform="matrix(0.9004,0,0,1.02,524.07,125.0)" vector-effect="non-scaling-stroke">S</text>
<text class="b" transform="matrix(1.1859,0,0,1.02,582.44,125.0)" vector-effect="non-scaling-stroke">’</text>
<text class="b" transform="matrix(1.1422,0,0,1.0,610.22,125.0)" vector-effect="non-scaling-stroke">m</text>
<text class="b" transform="matrix(1.0613,0,0,1.0,711.62,125.0)" vector-effect="non-scaling-stroke">o</text>
<text class="b" transform="matrix(0.9976,0,0,1.0,775.24,125.0)" vector-effect="non-scaling-stroke">r</text>
<text class="b" transform="matrix(1.0392,0,0,1.0,813.69,125.0)" vector-effect="non-scaling-stroke">e</text>
<text class="b" transform="matrix(0.9189,0,0,1.0,871.17,125.0)" vector-effect="non-scaling-stroke">s</text>
<text class="b" transform="matrix(0.9035,0,0,1.02,941.86,125.0)" vector-effect="non-scaling-stroke">S</text>
<text class="b" transform="matrix(1.0471,0,0,1.0,1003.79,125.0)" vector-effect="non-scaling-stroke">u</text>
<text class="b" transform="matrix(0.9851,0,0,1.0,1066.22,125.0)" vector-effect="non-scaling-stroke">r</text>
<text class="b" transform="matrix(1.0781,0,0,1.0,1104.86,125.0)" vector-effect="non-scaling-stroke">g</text>
<text class="b" transform="matrix(1.0431,0,0,1.0,1169.67,125.0)" vector-effect="non-scaling-stroke">e</text>
</g>
<text class="b" font-size="32" transform="matrix(1.0034,0,0,1,186.30,207.7)">Tracking</text>
<text class="b" font-size="32" transform="matrix(1.0423,0,0,1,325.00,207.7)">the</text>
<text class="b" font-size="32" transform="matrix(1.0555,0,0,1,382.24,207.7)">ooey-gooey</text>
<text class="b" font-size="32" transform="matrix(0.9845,0,0,1,580.03,207.7)">rise</text>
<text class="b" font-size="32" transform="matrix(1.0153,0,0,1,643.18,207.7)">of</text>
<text class="b" font-size="32" transform="matrix(1.0005,0,0,1,681.00,207.7)">s’mores</text>
<text class="b" font-size="32" transform="matrix(1.0052,0,0,1,809.79,207.7)">cravings</text>
<text class="b" font-size="32" transform="matrix(1.0090,0,0,1,948.70,207.7)">as</text>
<text class="b" font-size="32" transform="matrix(1.0159,0,0,1,988.98,207.7)">summer</text>
<text class="b" font-size="32" transform="matrix(1.0125,0,0,1,1122.98,207.7)">heats</text>
<text class="b" font-size="32" transform="matrix(1.0261,0,0,1,1215.16,207.7)">up</text>
<text class="b" x="47.599999999999994" y="278.6" font-size="21.6" textLength="57.2" lengthAdjust="spacingAndGlyphs">200%</text>
<text class="b" x="50.8" y="477.1" font-size="21.6" textLength="54.0" lengthAdjust="spacingAndGlyphs">100%</text>
<text class="b" x="74.19999999999999" y="675.6" font-size="21.6" textLength="30.6" lengthAdjust="spacingAndGlyphs">0%</text>
<text class="b" x="44.199999999999996" y="874.9" font-size="21.6" textLength="60.6" lengthAdjust="spacingAndGlyphs">-100%</text>
<text class="b" x="88.0" y="902.8" font-size="21.6" textLength="72.4" lengthAdjust="spacingAndGlyphs">Jan’ 24</text>
<text class="b" x="300.0" y="902.8" font-size="21.6" textLength="39.0" lengthAdjust="spacingAndGlyphs">Mar</text>
<text class="b" x="496.5" y="902.8" font-size="21.6" textLength="43.5" lengthAdjust="spacingAndGlyphs">May</text>
<text class="b" x="701.5" y="902.8" font-size="21.6" textLength="31.0" lengthAdjust="spacingAndGlyphs">Jul</text>
<text class="b" x="895.0" y="902.8" font-size="21.6" textLength="47.5" lengthAdjust="spacingAndGlyphs">Sept</text>
<text class="b" x="1097.5" y="902.8" font-size="21.6" textLength="40.0" lengthAdjust="spacingAndGlyphs">Nov</text>
<text class="b" x="1280.0" y="902.8" font-size="21.6" textLength="71.5" lengthAdjust="spacingAndGlyphs">Jan’ 25</text>
<text font-size="20.2" fill="#35614f" transform="matrix(1.0690,0,0,1,44.61,1002.5)">Instacart</text>
<text font-size="20.2" fill="#35614f" transform="matrix(1.0741,0,0,1,134.32,1002.5)">calculated</text>
<text font-size="20.2" fill="#35614f" transform="matrix(1.1004,0,0,1,237.50,1002.5)">the</text>
<text font-size="20.2" fill="#35614f" transform="matrix(1.0834,0,0,1,273.63,1002.5)">percent</text>
<text font-size="20.2" fill="#35614f" transform="matrix(1.0990,0,0,1,353.01,1002.5)">difference</text>
<text font-size="20.2" fill="#35614f" transform="matrix(1.0923,0,0,1,455.32,1002.5)">between</text>
<text font-size="20.2" fill="#35614f" transform="matrix(1.0674,0,0,1,544.20,1002.5)">the</text>
<text font-size="20.2" fill="#35614f" transform="matrix(1.0836,0,0,1,578.63,1002.5)">rolling</text>
<text font-size="20.2" fill="#35614f" transform="matrix(1.0427,0,0,1,641.51,1002.5)">7-day</text>
<text font-size="20.2" fill="#35614f" transform="matrix(1.0458,0,0,1,700.14,1002.5)">and</text>
<text font-size="20.2" fill="#35614f" transform="matrix(1.0739,0,0,1,739.78,1002.5)">2024</text>
<text font-size="20.2" fill="#35614f" transform="matrix(1.0427,0,0,1,793.54,1002.5)">overall</text>
<text font-size="20.2" fill="#35614f" transform="matrix(1.0305,0,0,1,860.47,1002.5)">share</text>
<text font-size="20.2" fill="#35614f" transform="matrix(1.0931,0,0,1,917.31,1002.5)">of</text>
<text font-size="20.2" fill="#35614f" transform="matrix(1.0483,0,0,1,941.84,1002.5)">orders</text>
<text font-size="20.2" fill="#35614f" transform="matrix(1.0870,0,0,1,1008.00,1002.5)">that</text>
<text x="45.6" y="1026.3" font-size="20.2" fill="#35614f" textLength="576.6" lengthAdjust="spacingAndGlyphs">contained both graham crackers and marshmallows together.</text>
<g>
<circle cx="1340" cy="1064" r="29" fill="#ff7009"/>
<path d="M1332,981H1349V1009 C1353,1003 1357,996.5 1362,995 C1368,993.5 1373.5,998 1373.5,1003.5 C1373.5,1008 1370,1011 1366,1013.5 L1340.3,1030 L1314,1013.5 C1310,1011 1307,1008 1307.5,1003 C1308,997.5 1313.5,993.5 1319,995 C1324,996.5 1328,1003 1332,1009 Z" fill="#0aad0a"/>
</g>
<g id="smore">
<ellipse cx="1300" cy="134" rx="52" ry="10" fill="#f1e7d8" opacity="0.22" transform="rotate(-6 1300 134)"/>
<path d="M1250.4,113 L1250.6,118 Q1250.8,121.2 1254.5,122.2 L1307.5,136.4 Q1312.8,137.8 1317,134.8 Q1338,117 1352.8,101 Q1354.8,98.6 1353.6,96 L1349,88 L1300,104 Z" fill="#eaa808"/>
<path d="M1251.6,109 L1253.6,117.6 Q1262,121.5 1270.8,124.9 Q1279,127.6 1287.8,129.3 Q1293,129.6 1299,128.2 Q1306,130.4 1313.7,130.4 Q1320,128.6 1326,123.5 Q1333,117.5 1338.6,112.3 L1351,98.7 Q1352.2,95.6 1351.4,92.6 L1347,86 L1300,108 Z" fill="#690c3d"/>
<path d="M1251.2,102 L1252.4,111.8 Q1253.2,114.6 1256,115.6 Q1274,121.2 1293.4,123.3 Q1302,124 1310.3,122.6 Q1319,120.4 1327.3,114.6 Q1337,106.6 1344.2,98.7 Q1347.6,94.6 1348.9,90.6 L1348.4,78 L1305,108 Z" fill="#d9cee6"/>
<path d="M1251.2,102 L1252.1,109.6 Q1252.9,112.4 1256,113.4 Q1274,118.9 1293.4,120.9 Q1302,121.5 1310.3,120.1 Q1319,117.9 1327.3,112.1 Q1337,104.1 1343.8,96.4 Q1347.2,92.4 1348.4,88.4 L1348.4,78 L1305,108 Z" fill="#ffffff"/>
<path d="M1281.5,66.2 Q1286.2,62.2 1292.2,63.2 L1344.5,71.4 Q1351.2,72.6 1350.2,77.6 Q1349.4,81.2 1346.4,84.6 Q1333,99 1320,108.2 Q1311.6,114.4 1303.6,113 L1252.6,101.8 Q1244.6,99.8 1249.4,94.6 Z" fill="#eaa808"/>
<g fill="#c0860a" opacity="0.85">
<circle cx="1289" cy="69" r="0.7"/><circle cx="1300" cy="71" r="0.7"/><circle cx="1311" cy="73" r="0.7"/><circle cx="1324" cy="76" r="0.7"/><circle cx="1335" cy="79" r="0.7"/>
<circle cx="1285" cy="76" r="0.7"/><circle cx="1296" cy="78" r="0.7"/><circle cx="1307" cy="80" r="0.7"/><circle cx="1319" cy="83" r="0.7"/><circle cx="1330" cy="86" r="0.7"/>
<circle cx="1272" cy="82" r="0.7"/><circle cx="1283" cy="85" r="0.7"/><circle cx="1294" cy="87" r="0.7"/><circle cx="1306" cy="89" r="0.7"/><circle cx="1318" cy="92" r="0.7"/>
<circle cx="1269" cy="90" r="0.7"/><circle cx="1281" cy="93" r="0.7"/><circle cx="1292" cy="95" r="0.7"/><circle cx="1304" cy="98" r="0.7"/><circle cx="1315" cy="99" r="0.7"/>
<circle cx="1258" cy="96" r="0.7"/><circle cx="1270" cy="99" r="0.7"/><circle cx="1281" cy="101" r="0.7"/><circle cx="1293" cy="104" r="0.7"/><circle cx="1305" cy="106" r="0.7"/>
</g>
</g>
</svg></body></html>
